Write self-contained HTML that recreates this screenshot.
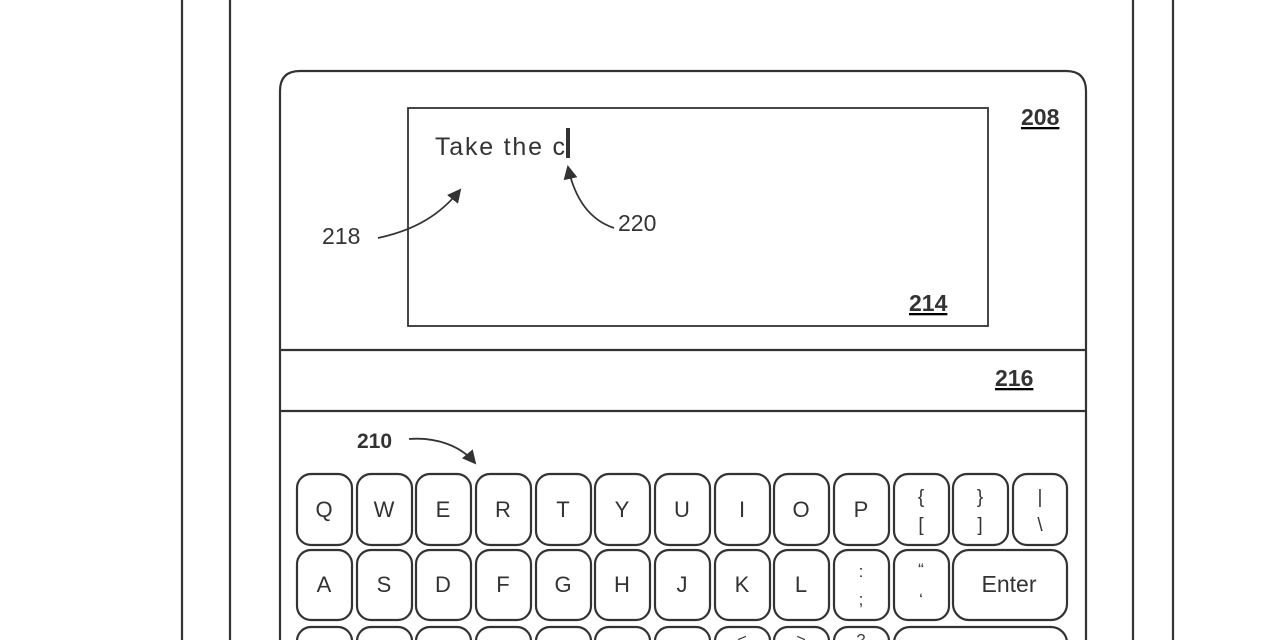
<!DOCTYPE html>
<html><head><meta charset="utf-8"><style>
html,body{margin:0;padding:0;background:#fff;width:1280px;height:640px;overflow:hidden}
svg{display:block}
text{font-family:"Liberation Sans",sans-serif;fill:#333}
</style></head><body>
<svg width="1280" height="640" viewBox="0 0 1280 640" xmlns="http://www.w3.org/2000/svg">
<defs><marker id="ah2" markerWidth="14" markerHeight="14" refX="12" refY="7" orient="auto" markerUnits="userSpaceOnUse"><path d="M0,0 L14,7 L0,14 z" fill="#333"/></marker></defs>
<g stroke="#333" stroke-width="2.2" fill="none">
<line x1="182" y1="0" x2="182" y2="640"/>
<line x1="230" y1="0" x2="230" y2="640"/>
<line x1="1133" y1="0" x2="1133" y2="640"/>
<line x1="1173" y1="0" x2="1173" y2="640"/>
<path d="M280,640 L280,91 Q280,71 300,71 L1066,71 Q1086,71 1086,91 L1086,640"/>
<rect x="408" y="108" width="580" height="218" stroke-width="1.8"/>
<line x1="280" y1="350" x2="1086" y2="350"/>
<line x1="280" y1="411" x2="1086" y2="411"/>
<rect x="566" y="128" width="4" height="30" fill="#333" stroke="none"/>
<path d="M378,238 C415,230 440,215 460,190" stroke-width="1.8" marker-end="url(#ah2)"/>
<path d="M614,228 C590,220 575,200 568,167" stroke-width="1.8" marker-end="url(#ah2)"/>
<path d="M409,439 C435,437 460,445 475,463" stroke-width="1.8" marker-end="url(#ah2)"/>
</g>
<text x="435" y="155" font-size="25" textLength="130" lengthAdjust="spacing">Take the c</text>
<text x="322" y="244" font-size="23">218</text>
<text x="618" y="231" font-size="23">220</text>
<text x="357" y="448" font-size="21" font-weight="bold">210</text>
<g font-size="23" font-weight="bold" text-decoration="underline">
<text x="1021" y="125">208</text>
<text x="909" y="311">214</text>
<text x="995" y="386">216</text>
</g>
<g stroke="#333" stroke-width="2.2" fill="none">
<rect x="297" y="474" width="55" height="71" rx="14"/>
<rect x="357" y="474" width="55" height="71" rx="14"/>
<rect x="416" y="474" width="55" height="71" rx="14"/>
<rect x="476" y="474" width="55" height="71" rx="14"/>
<rect x="536" y="474" width="55" height="71" rx="14"/>
<rect x="595" y="474" width="55" height="71" rx="14"/>
<rect x="655" y="474" width="55" height="71" rx="14"/>
<rect x="715" y="474" width="55" height="71" rx="14"/>
<rect x="774" y="474" width="55" height="71" rx="14"/>
<rect x="834" y="474" width="55" height="71" rx="14"/>
<rect x="894" y="474" width="55" height="71" rx="14"/>
<rect x="953" y="474" width="55" height="71" rx="14"/>
<rect x="1013" y="474" width="54" height="71" rx="14"/>
<rect x="297" y="550" width="55" height="70" rx="14"/>
<rect x="357" y="550" width="55" height="70" rx="14"/>
<rect x="416" y="550" width="55" height="70" rx="14"/>
<rect x="476" y="550" width="55" height="70" rx="14"/>
<rect x="536" y="550" width="55" height="70" rx="14"/>
<rect x="595" y="550" width="55" height="70" rx="14"/>
<rect x="655" y="550" width="55" height="70" rx="14"/>
<rect x="715" y="550" width="55" height="70" rx="14"/>
<rect x="774" y="550" width="55" height="70" rx="14"/>
<rect x="834" y="550" width="55" height="70" rx="14"/>
<rect x="894" y="550" width="55" height="70" rx="14"/>
<rect x="953" y="550" width="114" height="70" rx="16"/>
<rect x="297" y="627" width="55" height="40" rx="14"/>
<rect x="357" y="627" width="55" height="40" rx="14"/>
<rect x="416" y="627" width="55" height="40" rx="14"/>
<rect x="476" y="627" width="55" height="40" rx="14"/>
<rect x="536" y="627" width="55" height="40" rx="14"/>
<rect x="595" y="627" width="55" height="40" rx="14"/>
<rect x="655" y="627" width="55" height="40" rx="14"/>
<rect x="715" y="627" width="55" height="40" rx="14"/>
<rect x="774" y="627" width="55" height="40" rx="14"/>
<rect x="834" y="627" width="55" height="40" rx="14"/>
<rect x="894" y="627" width="173" height="40" rx="16"/>
</g>
<g font-size="22" text-anchor="middle">
<text x="324" y="517">Q</text><text x="384" y="517">W</text><text x="443" y="517">E</text>
<text x="503" y="517">R</text><text x="563" y="517">T</text><text x="622" y="517">Y</text>
<text x="682" y="517">U</text><text x="742" y="517">I</text><text x="801" y="517">O</text>
<text x="861" y="517">P</text>
<text x="921" y="503" font-size="19">{</text><text x="921" y="531" font-size="19">[</text>
<text x="980" y="503" font-size="19">}</text><text x="980" y="531" font-size="19">]</text>
<text x="1040" y="503" font-size="19">|</text><text x="1040" y="531" font-size="19">\</text>
<text x="324" y="592">A</text><text x="384" y="592">S</text><text x="443" y="592">D</text>
<text x="503" y="592">F</text><text x="563" y="592">G</text><text x="622" y="592">H</text>
<text x="682" y="592">J</text><text x="742" y="592">K</text><text x="801" y="592">L</text>
<text x="861" y="577" font-size="17">:</text><text x="861" y="605" font-size="17">;</text>
<text x="921" y="575" font-size="17">“</text><text x="921" y="605" font-size="17">‘</text>
<text x="1009" y="592" font-size="23">Enter</text>
<text x="742" y="645" font-size="16">&lt;</text><text x="801" y="645" font-size="16">&gt;</text><text x="861" y="645" font-size="16">?</text>
</g>
</svg>
</body></html>
